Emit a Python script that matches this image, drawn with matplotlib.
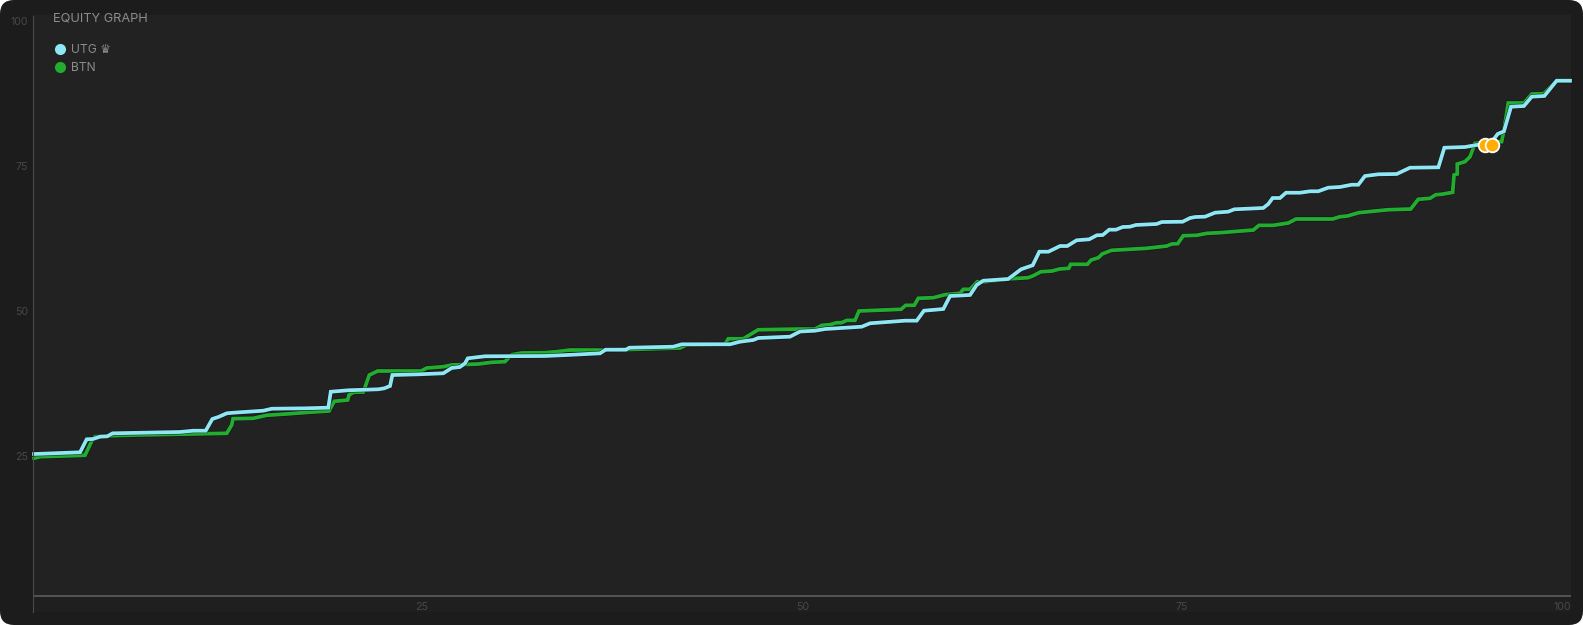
import matplotlib
matplotlib.use("Agg")
import matplotlib.pyplot as plt
import matplotlib.patheffects as pe
from matplotlib.lines import Line2D
from matplotlib.patches import FancyBboxPatch, Rectangle
from matplotlib.transforms import ScaledTranslation, IdentityTransform

plt.rcParams['font.family'] = ['Inter', 'DejaVu Sans']

utg_x = [0, 3.0, 3.43, 3.84, 4.30, 4.77, 5.12, 9.51, 10.37, 11.18, 11.61, 12.0, 12.55, 12.98, 14.93, 15.48,
         17.64, 19.16, 19.32, 20.46, 22.42, 22.81, 23.18, 23.33, 25.02, 26.65, 27.19, 27.73, 28.06, 28.24,
         29.36, 33.27, 34.68, 36.85, 37.22, 38.54, 38.76, 41.62, 42.17, 45.31, 45.96, 46.83, 47.15, 49.22,
         49.87, 50.85, 51.5, 53.89, 54.43, 56.71, 57.47, 57.94, 59.2, 59.64, 60.94, 61.37, 61.8, 63.43,
         64.26, 65.02, 65.45, 66.04, 66.8, 67.27, 67.88, 68.7, 69.19, 69.58, 70.0, 70.44, 70.88, 71.35,
         71.74, 73.09, 73.42, 74.78, 75.26, 75.59, 76.24, 76.89, 77.75, 78.14, 80.03, 80.36, 80.64, 81.12,
         81.51, 82.42, 83.07, 83.61, 84.26, 85.03, 85.79, 86.22, 86.65, 87.52, 88.72, 89.58, 91.43, 91.82,
         93.16, 94.03, 95.0, 95.29, 95.7, 96.16, 97.0, 97.51, 98.33, 99.13, 100]
utg_y = [24.48, 24.78, 27.02, 27.07, 27.47, 27.53, 28.05, 28.28, 28.5, 28.5, 30.52, 30.86, 31.5, 31.6, 31.95, 32.29,
         32.36, 32.47, 35.22, 35.47, 35.64, 35.81, 36.21, 38.1, 38.22, 38.4, 39.31, 39.48, 40.12, 40.98,
         41.33, 41.38, 41.55, 41.84, 42.47, 42.47, 42.81, 42.98, 43.4, 43.4, 43.84, 44.14, 44.48, 44.71,
         45.6, 45.74, 46.03, 46.43, 47.02, 47.47, 47.47, 49.19, 49.48, 51.72, 51.9, 53.62, 54.36, 54.66,
         56.33, 57.02, 59.36, 59.36, 60.34, 60.34, 61.33, 61.5, 62.19, 62.24, 63.16, 63.16, 63.62, 63.67,
         63.97, 64.14, 64.48, 64.53, 65.17, 65.34, 65.4, 66.09, 66.26, 66.67, 66.9, 67.59, 68.62, 68.62,
         69.53, 69.53, 69.78, 69.78, 70.4, 70.52, 70.91, 70.91, 72.41, 72.71, 72.76, 73.84, 73.91, 77.29,
         77.41, 77.81, 78.62, 79.66, 80.12, 84.36, 84.48, 86.09, 86.21, 88.84, 88.84]

btn_x = [0, 0.39, 3.32, 3.76, 3.97, 5.06, 6.69, 12.55, 12.87, 12.96, 14.28, 15.15, 16.67, 17.86, 19.21, 19.55,
         20.42, 20.51, 20.79, 21.44, 21.83, 22.38, 25.2, 25.57, 26.65, 27.19, 28.93, 29.8, 30.66, 31.1,
         31.75, 33.27, 34.03, 34.9, 37.06, 38.7, 42.06, 42.49, 44.99, 45.2, 46.18, 47.15, 49.87, 50.85,
         51.28, 51.82, 52.26, 52.58, 52.91, 53.45, 53.71, 56.45, 56.75, 57.31, 57.57, 58.55, 59.31, 60.29,
         60.5, 60.94, 61.41, 61.91, 63.65, 64.73, 65.06, 65.55, 66.28, 66.76, 67.37, 67.49, 68.58, 68.82,
         69.3, 69.54, 70.15, 72.44, 73.74, 74.07, 74.46, 74.82, 75.7, 76.35, 77.21, 79.38, 79.75, 80.68,
         81.66, 82.16, 84.55, 85.03, 85.52, 86.24, 88.18, 89.63, 90.12, 90.89, 91.26, 91.64, 92.36, 92.45,
         92.66, 92.66, 93.16, 93.49, 93.82, 95.33, 95.55, 95.7, 95.98, 97.0, 97.51, 98.29, 99.13, 100]
btn_y = [23.74, 24.02, 24.26, 26.72, 27.47, 27.64, 27.76, 28.05, 29.48, 30.57, 30.64, 31.16, 31.43, 31.67, 31.9, 33.57,
         33.79, 34.66, 35.12, 35.17, 38.1, 38.79, 38.79, 39.31, 39.53, 39.83, 40.0, 40.29, 40.4, 41.6,
         41.9, 41.95, 42.12, 42.41, 42.4, 42.5, 42.76, 43.28, 43.45, 44.36, 44.36, 45.91, 46.03, 46.03,
         46.67, 46.78, 47.12, 47.12, 47.53, 47.53, 49.14, 49.43, 50.12, 50.12, 51.33, 51.43, 51.95, 52.19,
         52.88, 52.88, 54.19, 54.19, 54.71, 54.88, 55.22, 55.91, 56.03, 56.38, 56.5, 57.19, 57.19, 57.93,
         58.33, 58.97, 59.6, 59.95, 60.34, 60.69, 60.74, 62.12, 62.19, 62.53, 62.64, 63.1, 63.91, 63.91,
         64.31, 65.0, 65.0, 65.4, 65.52, 66.09, 66.6, 66.72, 68.4, 68.57, 69.19, 69.26, 69.6, 72.59,
         72.76, 74.48, 74.88, 75.74, 78.05, 78.33, 78.33, 80.34, 85.0, 85.0, 86.55, 86.6, 88.84, 88.84]

marker_x = [94.47, 94.9]
marker_y = [77.81, 77.81]
x_ticks = [25, 50, 75, 100]
y_ticks = [25, 50, 75, 100]
series_names = ['UTG \u265b', 'BTN']
title_text = 'EQUITY GRAPH'

W, H = 1583, 625
CYAN, GREEN, ORANGE = '#8fe6f5', '#22ad31', '#ffad00'
GRID, TICK, TXT = '#555555', '#484848', '#8c8c8c'

fig = plt.figure(figsize=(W / 100, H / 100), dpi=100, facecolor='white')

def py(v):
    return H - v

outer = FancyBboxPatch((14, 14), W - 28, H - 28, boxstyle='round,pad=14,rounding_size=14',
                       transform=IdentityTransform(), fc='#1c1c1c', ec='none', zorder=-5)
fig.add_artist(outer)
fig.add_artist(Rectangle((33, py(596)), 1538, 581, transform=IdentityTransform(), fc='#222222', ec='none', zorder=-4))
fig.add_artist(Rectangle((33, py(612)), 1538, 16, transform=IdentityTransform(), fc='#1f1f1f', ec='none', zorder=-4))
fig.add_artist(Line2D([32.5, 32.5], [py(16), py(612)], transform=IdentityTransform(), color='#4a4a4a', lw=0.8))

ax = fig.add_axes([34 / W, (H - 596) / H, 1536 / W, 580 / H])
ax.patch.set_alpha(0)
ax.set_xlim(0, 100)
ax.set_ylim(0, 100)
for s in ('top', 'left', 'right'):
    ax.spines[s].set_visible(False)
ax.spines['bottom'].set_color(GRID)
ax.spines['bottom'].set_linewidth(1.4)

halo = [pe.Stroke(linewidth=3.6, foreground='#101010', alpha=0.7), pe.Normal()]
ax.plot(btn_x, btn_y, color=GREEN, lw=2.7, solid_joinstyle='miter', path_effects=halo, clip_on=False, zorder=3)
ax.plot(utg_x, utg_y, color=CYAN, lw=2.7, solid_joinstyle='miter', path_effects=halo, clip_on=False, zorder=4)
ax.plot(marker_x, marker_y, ls='none', marker='o', ms=9.8, mfc=ORANGE, mec='white', mew=1.3, zorder=5)

ax.set_xticks(x_ticks, [str(v) for v in x_ticks])
ax.set_yticks(y_ticks, [str(v) for v in y_ticks])
ax.tick_params(length=0, labelsize=7.6, labelcolor=TICK)
ax.tick_params(axis='x', pad=4)
ax.tick_params(axis='y', pad=4)
x_off = [4, 1, -4, 1]
for lab, dx in zip(ax.get_xticklabels(), x_off):
    lab.set_transform(lab.get_transform() + ScaledTranslation(dx / 100, 0, fig.dpi_scale_trans))
ax.get_xticklabels()[-1].set_ha('right')
for lab in ax.get_yticklabels():
    lab.set_transform(lab.get_transform() + ScaledTranslation(0, -5 / 100, fig.dpi_scale_trans))

fig.text(53 / W, py(19) / H, title_text, color=TXT, fontsize=9.2, va='center', ha='left')
handles = [Line2D([], [], ls='none', marker='o', ms=8, mfc=c, mec='none') for c in (CYAN, GREEN)]
leg = fig.legend(handles, series_names, loc='upper left', bbox_to_anchor=(53.5 / W, py(44) / H), frameon=False,
                 borderaxespad=0, borderpad=0, handlelength=1.15, handletextpad=0.3, labelspacing=0.5,
                 prop={'size': 8.7})
for t in leg.get_texts():
    t.set_color(TXT)

fig.savefig('out.png', dpi=100, facecolor=fig.get_facecolor())
